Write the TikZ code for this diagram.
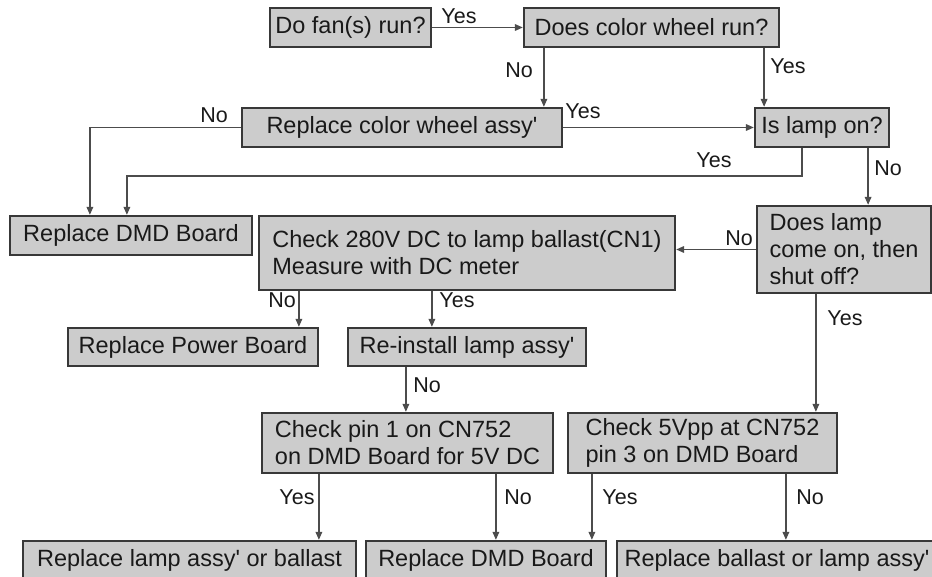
\documentclass[tikz,border=0pt]{standalone}
\usepackage{fontspec}
\setmainfont{Liberation Sans}
\usetikzlibrary{arrows.meta}

\newcommand{\apos}{\textquotesingle}

\tikzset{
  box/.style={draw=black!78,line width=2.2pt,fill=black!20,text=black!90,
    font=\fontsize{23.5}{27}\selectfont,align=left,inner sep=0pt},
  ans/.style={font=\fontsize{21.5}{24}\selectfont,text=black!90,inner sep=0pt},
  arr/.style={draw=black!70,line width=1.6pt,-{Triangle[length=8pt,width=6.5pt]}}
}

\begin{document}
\begin{tikzpicture}[x=1pt,y=-1pt]
\useasboundingbox (0,0) rectangle (932,577);

% questions and repairs
\node[box,minimum width=161,minimum height=39] (fan) at (350.5,27.5) {Do fan(s) run?};
\node[box,minimum width=255,minimum height=39] (wheel) at (651.5,27.5) {Does color wheel run?};
\node[box,minimum width=320,minimum height=39] (cwheel) at (402,127.5) {Replace color wheel assy\apos};
\node[box,minimum width=134,minimum height=39] (lamp) at (822,127.5) {Is lamp on?};
\node[box,minimum width=242,minimum height=39] (dmdA) at (131,235.5) {Replace DMD Board};
\node[box,minimum width=416,minimum height=74] (check) at (467,253) {Check 280V DC to lamp ballast(CN1)\\Measure with DC meter};
\node[box,minimum width=174,minimum height=87] (onoff) at (844,249.5) {Does lamp\\come on, then\\shut off?};
\node[box,minimum width=250,minimum height=38] (power) at (193,347) {Replace Power Board};
\node[box,minimum width=238,minimum height=38] (reinst) at (467,347) {Re-install lamp assy\apos};
\node[box,minimum width=291,minimum height=60] (pin) at (407.5,443) {Check pin 1 on CN752\\on DMD Board for 5V DC};
\node[box,minimum width=269,minimum height=60] (vpp) at (702.5,443) {Check 5Vpp at CN752\\pin 3 on DMD Board};
\node[box,minimum width=333,minimum height=39] (ballastA) at (189.5,560.5) {Replace lamp assy\apos{} or ballast};
\node[box,minimum width=240,minimum height=39] (dmdB) at (486,560.5) {Replace DMD Board};
\node[box,minimum width=320,minimum height=39] (ballastB) at (777,560.5) {Replace ballast or lamp assy\apos};

% where the branches leave and enter the boxes
\path ([xshift=21]wheel.south west) coordinate (wNo)
      ([xshift=-16]wheel.south east) coordinate (wYes)
      ([xshift=48]lamp.south west) coordinate (lYes)
      ([xshift=-22]lamp.south east) coordinate (lNo)
      ([xshift=81]dmdA.north west) coordinate (dIn1)
      ([xshift=118]dmdA.north west) coordinate (dIn2)
      ([xshift=41]check.south west) coordinate (cNo)
      ([xshift=174]check.south west) coordinate (cYes)
      ([xshift=59]reinst.south west) coordinate (rNo)
      ([xshift=60]onoff.south west) coordinate (oYes)
      ([xshift=58]pin.south west) coordinate (pYes)
      ([xshift=235]pin.south west) coordinate (pNo)
      ([xshift=25]vpp.south west) coordinate (vYes)
      ([xshift=219]vpp.south west) coordinate (vNo);

\draw[arr] (fan) -- (wheel);
\draw[arr] (wNo) -- (wNo |- cwheel.north);
\draw[arr] (wYes) -- (wYes |- lamp.north);
\draw[arr] (cwheel) -- (lamp);
\draw[arr] (cwheel.west) -| (dIn1);
\draw[arr] (lYes) -- ++(0,28) -| (dIn2);
\draw[arr] (lNo) -- (lNo |- onoff.north);
\draw[arr] (onoff.west) -- (onoff.west -| check.east);
\draw[arr] (cNo) -- (cNo |- power.north);
\draw[arr] (cYes) -- (cYes |- reinst.north);
\draw[arr] (rNo) -- (rNo |- pin.north);
\draw[arr] (oYes) -- (oYes |- vpp.north);
\draw[arr] (pYes) -- (pYes |- ballastA.north);
\draw[arr] (pNo) -- (pNo |- dmdB.north);
\draw[arr] (vYes) -- (vYes |- dmdB.north);
\draw[arr] (vNo) -- (vNo |- ballastB.north);

% yes/no on the branches
\foreach \x/\y/\t [count=\i] in {459/16/Yes, 519/70/No, 788/66/Yes, 214/115/No,
    583/111/Yes, 714/160/Yes, 888/168/No, 739/238/No, 282/300/No, 457/300/Yes,
    845/318/Yes, 427/385/No, 297/497/Yes, 518/497/No, 620/497/Yes, 810/497/No}
  \node[ans] (ans\i) at (\x,\y) {\t};

\end{tikzpicture}
\end{document}
